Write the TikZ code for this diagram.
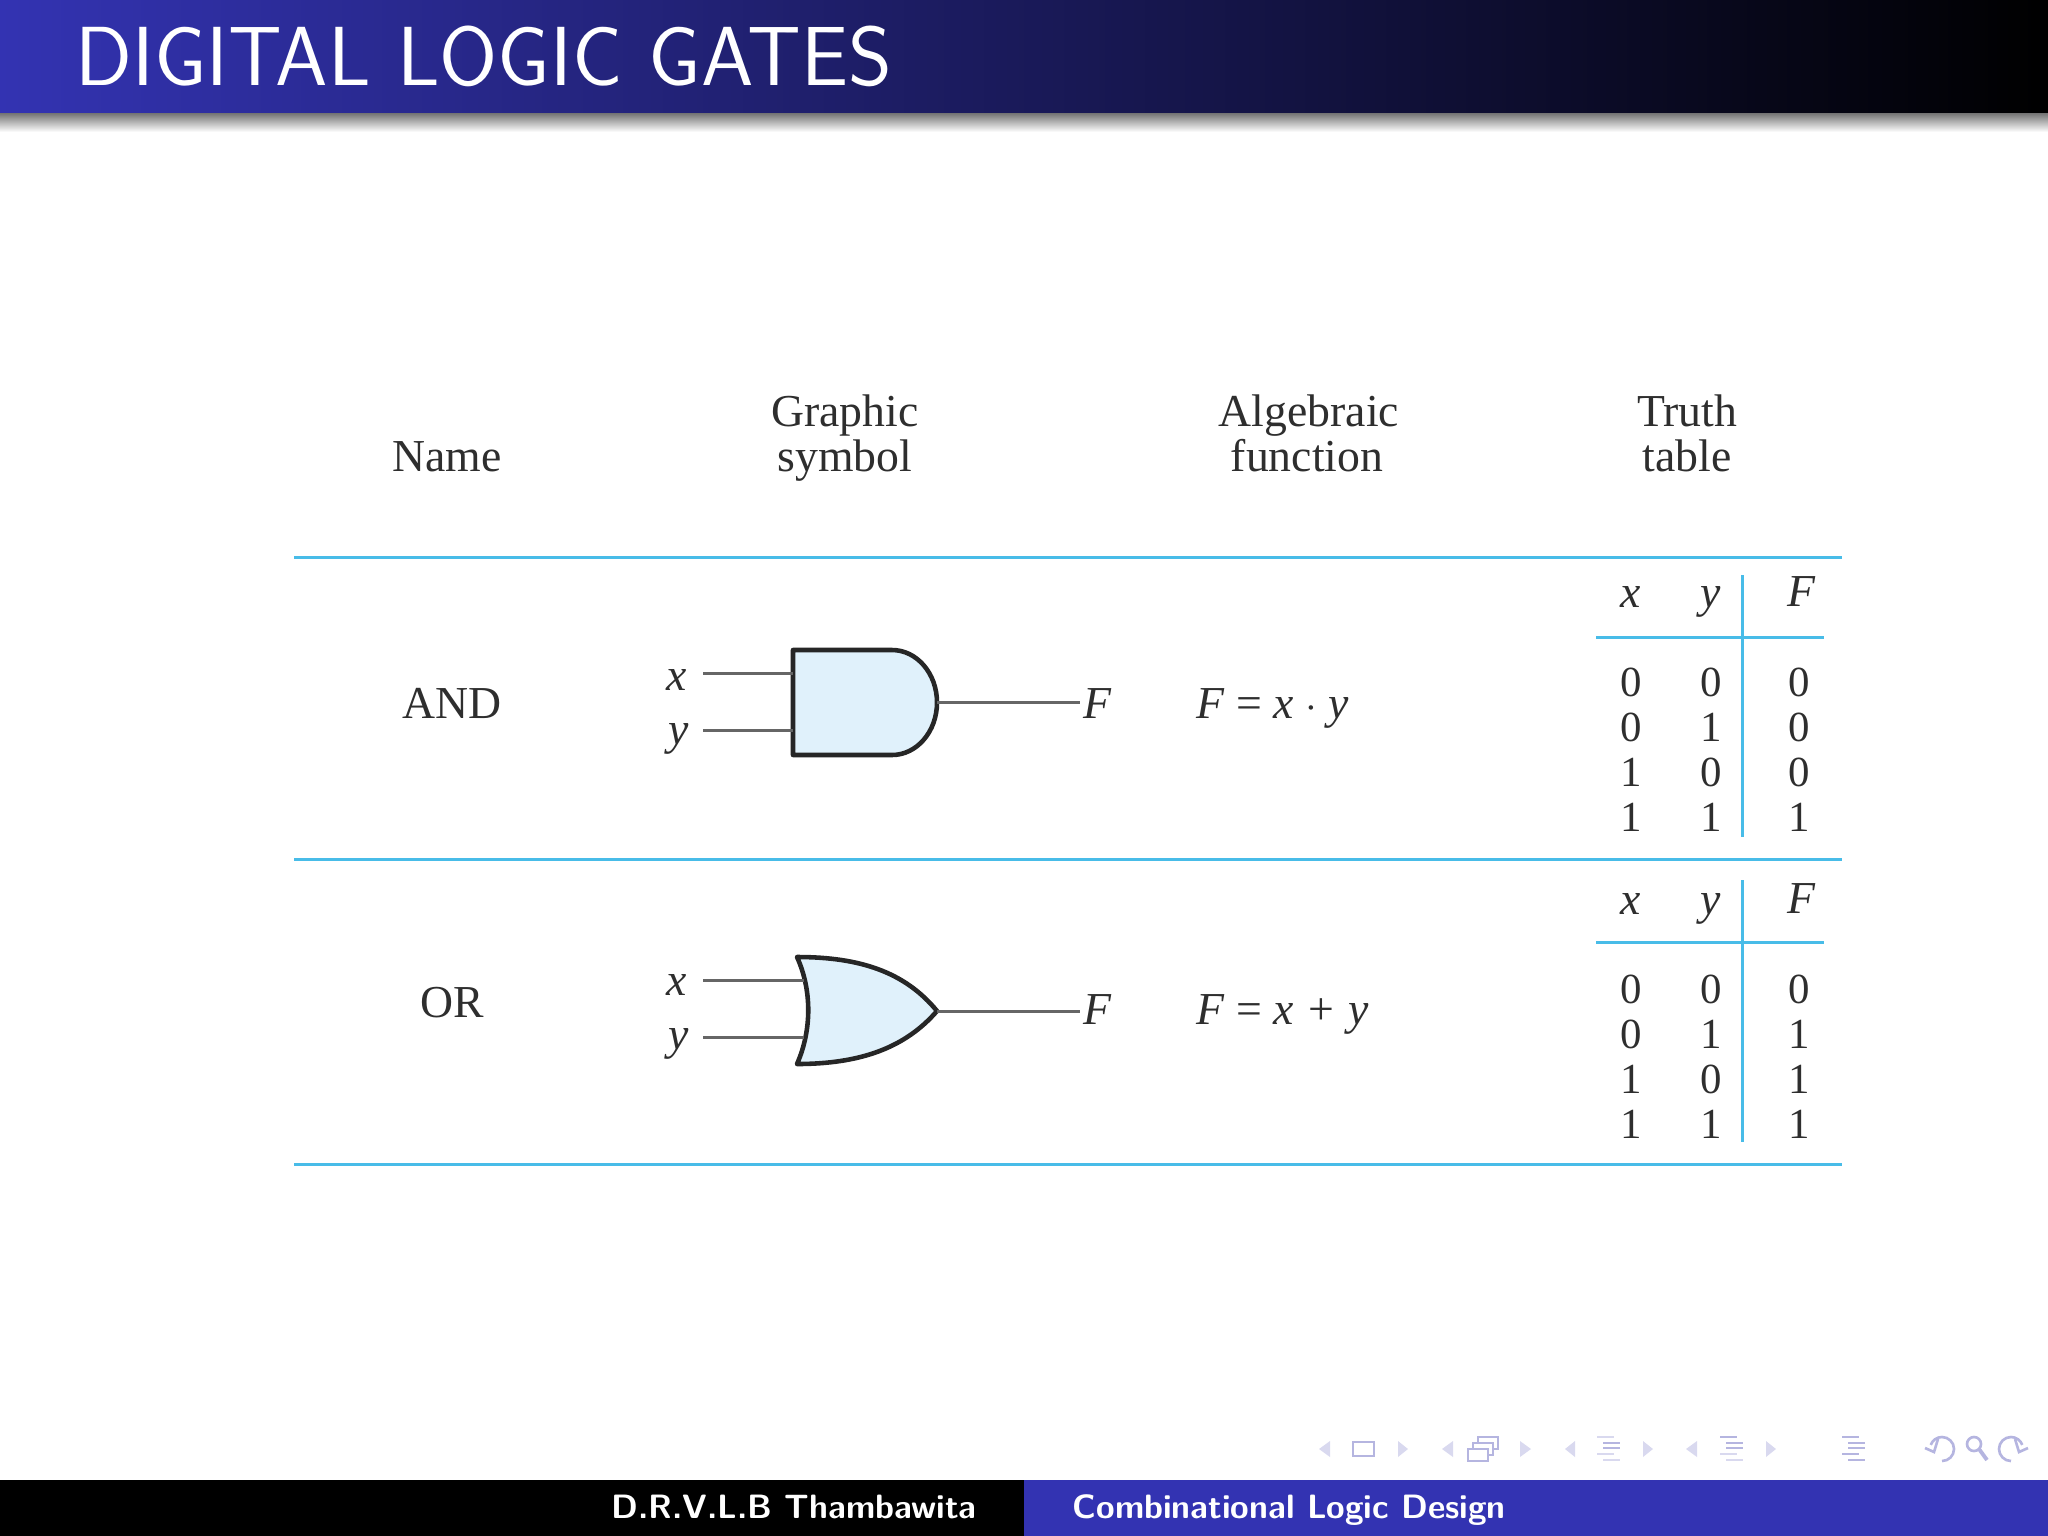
\documentclass[tikz,border=0pt]{standalone}
\usepackage{fontspec}
\setmainfont{Liberation Serif}
\usepackage{tikz}
\usetikzlibrary{arrows.meta}
\definecolor{barblue}{HTML}{3333B2}
\definecolor{rulecyan}{HTML}{48BCE8}
\definecolor{gatefill}{HTML}{E0F1FB}
\definecolor{inkgray}{HTML}{2E2E2E}
\definecolor{navpale}{HTML}{D9D9EF}
\definecolor{navmid}{HTML}{B5B5E0}
\tikzset{
  txt/.style={inner sep=0pt, anchor=base, text=inkgray, font=\fontsize{13}{15}\selectfont},
  digit/.style={txt, font=\fontsize{12.2}{14}\selectfont},
  rulec/.style={draw=rulecyan, line width=0.85pt},
  wire/.style={draw=black!60, line width=0.85pt},
  gate/.style={draw=black!85, fill=gatefill, line width=1.3pt, line join=round},
  navtri/.style={fill=navpale, draw=none},
  navbar/.style={line width=0.75pt},
  navline/.style={navmid, line width=0.75pt}
}
\begin{document}
\begin{tikzpicture}[x=0.01cm, y=-0.01cm]
\useasboundingbox (0,0) rectangle (2048,1536);
% title bar
\shade[left color=barblue, right color=black] (0,0) rectangle (2048,113);
\shade[top color=black!55, bottom color=white] (0,113) rectangle (2048,132);
\node[inner sep=0pt, anchor=west, text=white, font=\sffamily\fontsize{23.85}{28}\selectfont] (title) at (75,56) {DIGITAL LOGIC GATES};
% foot bar
\fill[black] (0,1480) rectangle (1024,1536);
\fill[barblue] (1024,1480) rectangle (2048,1536);
\node[inner sep=0pt, anchor=base, text=white, font=\sffamily\bfseries\fontsize{9.6}{11}\selectfont] (author) at (794,1518) {D.R.V.L.B Thambawita};
\node[inner sep=0pt, anchor=base west, text=white, font=\sffamily\bfseries\fontsize{9.6}{11}\selectfont] (topic) at (1072,1518) {Combinational Logic Design};
% headings
\node[txt] (name) at (447,471) {Name};
\node[txt] (graphic) at (845,426) {Graphic};
\node[txt] (symbol) at (845,471) {symbol};
\node[txt] (algebraic) at (1309,426) {Algebraic};
\node[txt] (function) at (1307,471) {function};
\node[txt] (truth) at (1687,426) {Truth};
\node[txt] (table) at (1687,471) {table};
% long rules
\foreach \i/\y in {a/557,b/859,c/1164}
{
  \coordinate (l\i) at (294,\y);
  \coordinate (r\i) at (1842,\y);
  \draw[rulec] (l\i) to (r\i);
}
% AND row
\node[txt] (andname) at (452,718) {AND};
\draw[gate] (793,650) -- (892,650) arc[start angle=90, end angle=-90, x radius=45, y radius=-52.5] -- (793,755) -- cycle;
\node[txt] (andx) at (677,690) {\textit{x}};
\node[txt] (andy) at (679,744) {\textit{y}};
\node[txt] (andf) at (1098,718) {\textit{F}};
\coordinate (andxa) at (703,673);
\coordinate (andxb) at (793,673);
\coordinate (andya) at (703,730);
\coordinate (andyb) at (793,730);
\coordinate (ando) at (937,702);
\coordinate (andz) at (1080,702);
\draw[wire] (andxa) to (andxb);
\draw[wire] (andya) to (andyb);
\draw[wire] (ando) to (andz);
\node[txt, anchor=base west] (andeq) at (1196,718) {\textit{F} = \textit{x} $\cdot$ \textit{y}};
% OR row
\node[txt] (orname) at (452,1017) {OR};
\draw[gate] (797,957) .. controls (860,957) and (905,972) .. (937,1011)
  .. controls (905,1048) and (860,1064) .. (797,1064)
  .. controls (812,1030) and (812,990) .. (797,957) -- cycle;
\node[txt] (orx) at (677,995) {\textit{x}};
\node[txt] (ory) at (679,1049) {\textit{y}};
\node[txt] (orf) at (1098,1024) {\textit{F}};
\coordinate (orxa) at (703,980);
\coordinate (orxb) at (804,980);
\coordinate (orya) at (703,1037);
\coordinate (oryb) at (804,1037);
\coordinate (oro) at (937,1011);
\coordinate (orz) at (1080,1011);
\draw[wire] (orxa) to (orxb);
\draw[wire] (orya) to (oryb);
\draw[wire] (oro) to (orz);
\node[txt, anchor=base west] (oreq) at (1196,1024) {\textit{F} = \textit{x} \hspace{0.06em}+\hspace{0.06em} \textit{y}};
% truth tables
\foreach \t/\o/\s/\fa/\fb/\fc/\fd in {and/0/0/0/0/0/1,or/305/2/0/1/1/1}
{
  \node[txt] (\t hx) at (1631,607+\o+\s) {\textit{x}};
  \node[txt] (\t hy) at (1711,607+\o+\s) {\textit{y}};
  \node[txt] (\t hf) at (1802,606+\o+\s) {\textit{F}};
  \coordinate (\t va) at (1742,575+\o);
  \coordinate (\t vb) at (1742,837+\o);
  \coordinate (\t ha) at (1596,637+\o);
  \coordinate (\t hb) at (1824,637+\o);
  \draw[rulec] (\t va) to (\t vb);
  \draw[rulec] (\t ha) to (\t hb);
  \foreach \r/\yy/\vx/\vy/\vf in {1/696/0/0/\fa,2/741/0/1/\fb,3/786/1/0/\fc,4/831/1/1/\fd}
  {
    \node[digit] (\t x\r) at (1631,\yy+\o+\s) {\vx};
    \node[digit] (\t y\r) at (1711,\yy+\o+\s) {\vy};
    \node[digit] (\t f\r) at (1799,\yy+\o+\s) {\vf};
  }
}
% navigation symbols
\foreach \a/\b in {1330/1319,1453/1442,1575/1565,1697/1686,1398/1408,1520/1531,1643/1653,1766/1776}
  \fill[navtri] (\a,1441) -- (\b,1449) -- (\a,1457) -- cycle;
\draw[navline] (1353,1442) rectangle (1374,1456);
\draw[navline] (1468,1449) rectangle (1488,1461);
\draw[navline] (1473,1449) -- (1473,1443) -- (1493,1443) -- (1493,1455) -- (1488,1455);
\draw[navline] (1478,1443) -- (1478,1437) -- (1498,1437) -- (1498,1449) -- (1493,1449);
\foreach \x/\ca/\cb/\cc/\cd/\ce in {1597/navpale/navmid/navmid/navpale/navpale,1720/navmid/navmid/navmid/navpale/navpale,1842/navmid/navmid/navmid/navmid/navmid}
{
  \draw[navbar, \ca] (\x,1437) -- (\x+17,1437);
  \draw[navbar, \cb] (\x+6,1443) -- (\x+23,1443);
  \draw[navbar, \cc] (\x+6,1448) -- (\x+23,1448);
  \draw[navbar, \cd] (\x,1454) -- (\x+17,1454);
  \draw[navbar, \ce] (\x+6,1460) -- (\x+23,1460);
}
\draw[navline] (1942,1461) arc[start angle=90, end angle=-160, radius=12];
\draw[navline] (1925,1448) -- (1934,1452) -- (1938,1439);
\draw[navline] (1974,1444) circle[radius=7];
\draw[navmid, line width=1.1pt] (1979,1449) -- (1987,1460);
\draw[navline] (2011,1461) arc[start angle=90, end angle=340, radius=12];
\draw[navline] (2028,1448) -- (2019,1452) -- (2015,1439);
\end{tikzpicture}
\end{document}
